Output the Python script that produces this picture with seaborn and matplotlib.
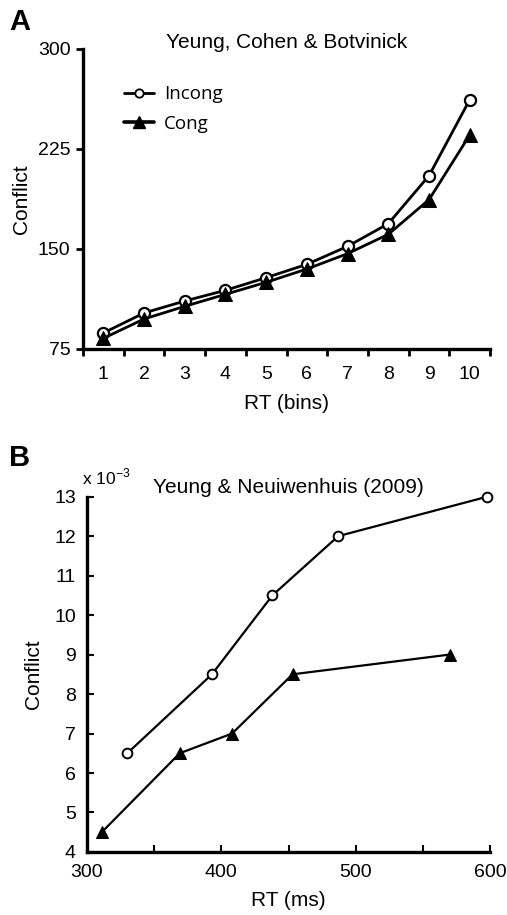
import matplotlib
matplotlib.use("Agg")
import matplotlib.pyplot as plt
from matplotlib.lines import Line2D
import seaborn as sns

# Panel A: Yeung, Cohen & Botvinick (conflict by RT bin)
bins = [1, 2, 3, 4, 5, 6, 7, 8, 9, 10]
a_incong = [87, 102, 111, 119, 128.5, 138.5, 152, 169, 205, 262]
a_cong = [83, 97.5, 107, 116, 125, 135, 146.5, 161, 187, 235.5]

# Panel B: Yeung & Nieuwenhuis (2009), conflict x 10^-3 by RT
b_incong_rt = [330, 393, 438, 487, 598]
b_incong = [6.5, 8.5, 10.5, 12.0, 13.0]
b_cong_rt = [311, 369, 408, 453, 570]
b_cong = [4.5, 6.5, 7.0, 8.5, 9.0]

sns.set_style("white", {"text.color": "black", "axes.labelcolor": "black",
                        "xtick.color": "black", "ytick.color": "black"})
plt.rcParams["font.family"] = ["Liberation Sans", "DejaVu Sans"]

fig = plt.figure(figsize=(5.07, 9.15), dpi=100)
axA = fig.add_axes([0.1637, 0.6186, 0.803, 0.3279])
axB = fig.add_axes([0.1716, 0.0689, 0.795, 0.3883])

# ---- Panel A ----
sns.lineplot(x=bins, y=a_incong, ax=axA, color="black", lw=2.0, marker="o",
             markersize=8, markerfacecolor="white", markeredgecolor="black",
             markeredgewidth=1.6, clip_on=False)
sns.lineplot(x=bins, y=a_cong, ax=axA, color="black", lw=2.0, marker="^",
             markersize=10, markerfacecolor="black", markeredgecolor="black",
             clip_on=False)
axA.set_xlim(0.5, 10.5)
axA.set_ylim(75, 300)
axA.set_yticks([75, 150, 225, 300])
axA.set_xticks(bins)
axA.set_xticks([b + 0.5 for b in [0] + bins], minor=True)
axA.tick_params(axis="x", which="major", length=0, labelsize=14, pad=12)
axA.tick_params(axis="x", which="minor", length=5, width=2, direction="out",
                bottom=True)
axA.tick_params(axis="y", length=5, width=2, direction="out", left=True,
                labelsize=14, pad=4)
axA.set_xlabel("RT (bins)", fontsize=15, labelpad=8)
axA.set_ylabel("Conflict", fontsize=15, labelpad=5)
axA.set_title("Yeung, Cohen & Botvinick", fontsize=15, pad=1)
for s in ["top", "right"]:
    axA.spines[s].set_visible(False)
for s in ["left", "bottom"]:
    axA.spines[s].set_linewidth(2.4)
    axA.spines[s].set_color("black")

handles = [
    Line2D([], [], color="black", lw=2.0, marker="o", markersize=6,
           markerfacecolor="white", markeredgewidth=1.3),
    Line2D([], [], color="black", lw=2.6, marker="^", markersize=8,
           markerfacecolor="black"),
]
axA.legend(handles, ["Incong", "Cong"], loc="upper left",
           bbox_to_anchor=(0.06, 0.935), frameon=False, handlelength=1.6,
           handletextpad=0.5, labelspacing=0.62,
           prop={"family": "Open Sans", "size": 13.5})

fig.text(0.018, 0.976, "A", fontsize=21, fontweight="bold", va="center")

# ---- Panel B ----
sns.lineplot(x=b_incong_rt, y=b_incong, ax=axB, color="black", lw=1.6,
             marker="o", markersize=7, markerfacecolor="white",
             markeredgecolor="black", markeredgewidth=1.4, clip_on=False)
sns.lineplot(x=b_cong_rt, y=b_cong, ax=axB, color="black", lw=1.6,
             marker="^", markersize=8, markerfacecolor="black",
             markeredgecolor="black", clip_on=False)
axB.set_xlim(300, 600)
axB.set_ylim(4, 13)
axB.set_xticks([300, 400, 500, 600])
axB.set_xticks([350, 450, 550], minor=True)
axB.set_yticks(range(4, 14))
axB.tick_params(axis="both", which="both", direction="in", width=1.5,
                labelsize=14)
axB.tick_params(axis="x", which="both", length=5, bottom=True, pad=9)
axB.tick_params(axis="y", length=5, left=True, pad=8)
axB.set_xlabel("RT (ms)", fontsize=15, labelpad=7)
axB.set_ylabel("Conflict", fontsize=15, labelpad=8)
axB.set_title("Yeung & Neuiwenhuis (2009)", fontsize=15, pad=1)
for s in ["top", "right"]:
    axB.spines[s].set_visible(False)
for s in ["left", "bottom"]:
    axB.spines[s].set_linewidth(2.4)
    axB.spines[s].set_color("black")

fig.text(0.162, 0.479, r"x 10$^{\mathregular{-3}}$", fontsize=12.5, va="center")
fig.text(0.018, 0.5, "B", fontsize=21, fontweight="bold", va="center")

fig.savefig("out.png", dpi=100)
